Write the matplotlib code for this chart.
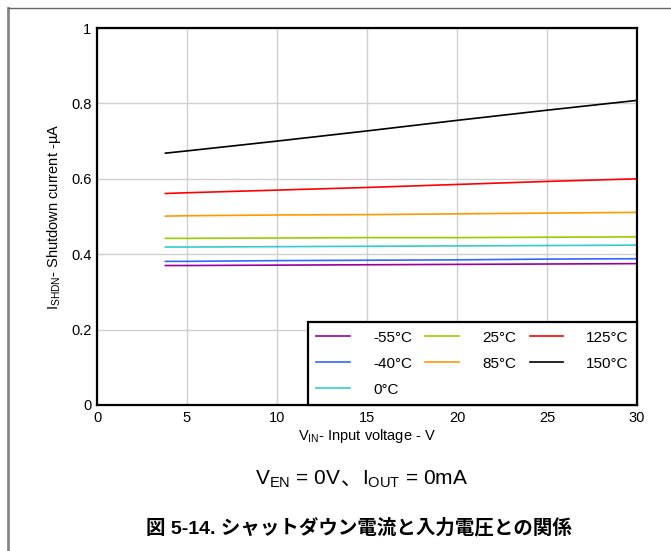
import matplotlib
matplotlib.use("Agg")
import matplotlib.pyplot as plt
from matplotlib.lines import Line2D

plt.rcParams['font.family'] = ['Liberation Sans', 'Noto Sans CJK JP', 'DejaVu Sans']
plt.rcParams['mathtext.fontset'] = 'custom'
plt.rcParams['mathtext.rm'] = 'Liberation Sans'
plt.rcParams['mathtext.it'] = 'Liberation Sans'

# data
vin = [3.8, 5, 10, 15, 20, 25, 30]
labels = ['-55°C', '-40°C', '0°C', '25°C', '85°C', '125°C', '150°C']
colors = ['#990099', '#3366ff', '#33cccc', '#99cc00', '#ff9900', '#ff0000', '#000000']
i_m55 = [0.370, 0.370, 0.371, 0.372, 0.373, 0.374, 0.375]
i_m40 = [0.381, 0.381, 0.383, 0.384, 0.385, 0.387, 0.388]
i_0 = [0.419, 0.419, 0.420, 0.421, 0.422, 0.423, 0.424]
i_25 = [0.442, 0.442, 0.443, 0.444, 0.444, 0.445, 0.446]
i_85 = [0.501, 0.502, 0.504, 0.505, 0.507, 0.509, 0.511]
i_125 = [0.561, 0.563, 0.570, 0.577, 0.585, 0.593, 0.600]
i_150 = [0.668, 0.674, 0.700, 0.727, 0.755, 0.782, 0.808]
series = [i_m55, i_m40, i_0, i_25, i_85, i_125, i_150]

xticks = [0, 5, 10, 15, 20, 25, 30]
yticks = [0, 0.2, 0.4, 0.6, 0.8, 1]

fig = plt.figure(figsize=(6.71, 5.51), dpi=100)
ax = fig.add_axes([97/671, 146/551, 540/671, 377/551])

for ys, lab, c in zip(series, labels, colors):
    ax.plot(vin, ys, color=c, lw=1.2, label=lab)

ax.set_xlim(0, 30)
ax.set_ylim(0, 1)
ax.set_xticks(xticks)
ax.set_yticks(yticks)
ax.set_xticklabels([str(t) for t in xticks])
ax.set_yticklabels(['0', '0.2', '0.4', '0.6', '0.8', '1'])
ax.tick_params(length=0, labelsize=10.5, pad=4)
ax.grid(True, color='#d0d0d0', lw=1)
ax.set_axisbelow(True)
for s in ax.spines.values():
    s.set_linewidth(1.6)
    s.set_color('black')

ax.set_xlabel(r'V$_{\mathregular{IN}}$- Input voltage - V', fontsize=10.5, labelpad=2)
ax.set_ylabel(r'I$_{\mathregular{SHDN}}$- Shutdown current -µA', fontsize=10.5, labelpad=6)

leg = ax.legend(loc='lower left', bbox_to_anchor=(211/540, 0, 329/540, 87/377),
                mode='expand', ncol=3, fontsize=11, frameon=True, fancybox=False,
                framealpha=1, edgecolor='black', borderaxespad=0,
                handlelength=2.2, handletextpad=1.5, borderpad=0.55, labelspacing=0.78)
leg.get_frame().set_linewidth(1.6)

# caption with subscripts and a Japanese comma
yb = (551 - 485) / 551
t1 = fig.text(255/671, yb, r'V$_{\mathregular{EN}}$ = 0V', fontsize=15, ha='left', va='baseline')
t2 = ax.annotate('、', xy=(1, yb), xycoords=(t1, 'figure fraction'), fontsize=15,
                 ha='left', va='baseline', annotation_clip=False,
                 family=['Noto Sans CJK JP'])
t3 = ax.annotate(r'I$_{\mathregular{OUT}}$ = 0mA', xy=(1, yb), xycoords=(t2, 'figure fraction'),
                 fontsize=15, ha='left', va='baseline', annotation_clip=False)

fig.text(359/671, (551 - 528)/551, '図 5-14. シャットダウン電流と入力電圧との関係',
         fontsize=14, fontweight='bold', ha='center', va='center',
         family=['Liberation Sans', 'Noto Sans CJK JP', 'DejaVu Sans'])

# page frame lines
fig.add_artist(Line2D([8/671, 8/671], [0, 1 - 8/551], color='#888888', lw=2))
fig.add_artist(Line2D([8/671, 1], [1 - 8/551, 1 - 8/551], color='#666666', lw=1))

fig.savefig('out.png', dpi=100)
